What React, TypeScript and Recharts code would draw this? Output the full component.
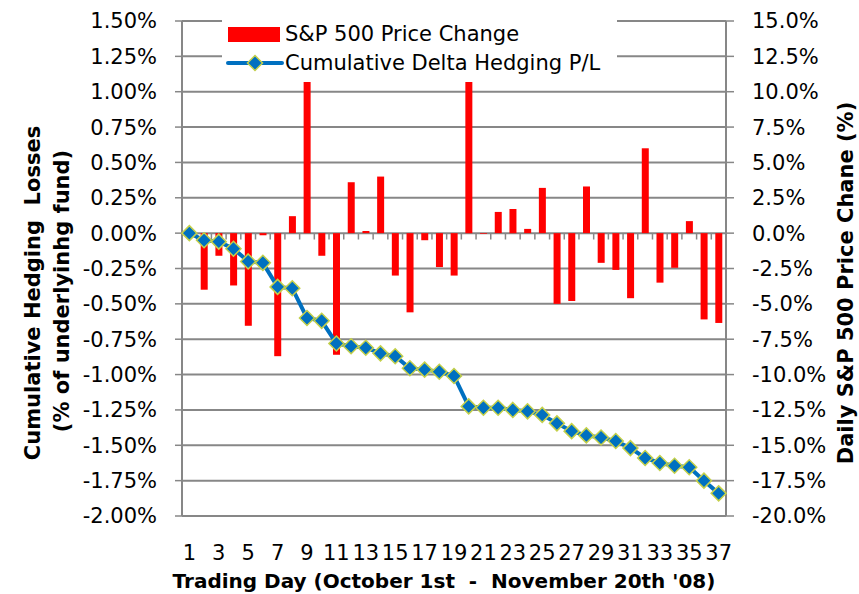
import { ComposedChart, Bar, Line, XAxis, YAxis, CartesianGrid, ReferenceLine } from 'recharts';

const days = [1, 2, 3, 4, 5, 6, 7, 8, 9, 10, 11, 12, 13, 14, 15, 16, 17, 18, 19, 20, 21, 22, 23, 24, 25, 26, 27, 28, 29, 30, 31, 32, 33, 34, 35, 36, 37];

// daily S&P 500 change, % (right axis)
const spxChange = [-0.3, -4.0, -1.6, -3.7, -6.55, -0.15, -8.7, 1.2, 11.6, -1.6, -8.6, 3.6, 0.15, 4.0, -3.0, -5.6, -0.5, -2.4, -3.0, 10.8, -0.05, 1.5, 1.7, 0.3, 3.2, -5.0, -4.8, 3.3, -2.1, -2.6, -4.6, 6.0, -3.5, -2.45, 0.85, -6.1, -6.35];

// cumulative delta hedging P/L, % of fund (left axis)
const hedgePL = [0, -0.05, -0.06, -0.11, -0.2, -0.21, -0.38, -0.39, -0.6, -0.62, -0.78, -0.8, -0.81, -0.85, -0.87, -0.955, -0.965, -0.98, -1.01, -1.225, -1.235, -1.235, -1.25, -1.26, -1.285, -1.345, -1.4, -1.43, -1.445, -1.47, -1.52, -1.59, -1.625, -1.645, -1.655, -1.75, -1.84];

const leftTicks = [1.5, 1.25, 1, 0.75, 0.5, 0.25, 0, -0.25, -0.5, -0.75, -1, -1.25, -1.5, -1.75, -2];
const rightTicks = [15, 12.5, 10, 7.5, 5, 2.5, 0, -2.5, -5, -7.5, -10, -12.5, -15, -17.5, -20];

const data = days.map((d, i) => ({ day: d, spx: spxChange[i], pl: hedgePL[i] }));

const FONT = '"DejaVu Sans", sans-serif';
const GRID = '#878787';
const BLUE = '#0070C0';
const MARKER_EDGE = '#C4D04A';

function Diamond(props: any) {
  const { cx, cy } = props;
  if (cx == null || cy == null) return <g key={props.key} />;
  const r = 7.5;
  return (
    <path
      key={props.key}
      d={`M${cx},${cy - r}L${cx + r},${cy}L${cx},${cy + r}L${cx - r},${cy}Z`}
      fill={BLUE}
      stroke={MARKER_EDGE}
      strokeWidth={1.5}
    />
  );
}

const titleStyle = { whiteSpace: 'pre' as const };

export default function App() {
  return (
    <div style={{ position: 'absolute', left: 0, top: 0, width: 859, height: 594, background: '#fff', fontFamily: FONT }}>
      <ComposedChart width={859} height={594} data={data} margin={{ top: 21, right: 0, left: 0, bottom: 0 }}>
        <CartesianGrid yAxisId="left" vertical={false} stroke={GRID} strokeWidth={2} />
        <XAxis
          dataKey="day"
          height={78}
          interval={1}
          tickLine={false}
          tickMargin={23}
          axisLine={{ stroke: GRID, strokeWidth: 2 }}
          tick={{ fontSize: 21, fill: '#000', fontFamily: FONT }}
          label={{
            content: () => (
              <text x={444} y={581} textAnchor="middle" dominantBaseline="central" fontFamily={FONT} fontWeight="bold" fontSize={20} fill="#000" style={titleStyle}>
                Trading Day (October 1st  -  November 20th '08)
              </text>
            ),
          }}
        />
        <YAxis
          yAxisId="left"
          orientation="left"
          width={182}
          domain={[-2, 1.5]}
          ticks={leftTicks}
          interval={0}
          tickFormatter={(v: number) => v.toFixed(2) + '%'}
          axisLine={{ stroke: GRID, strokeWidth: 2 }}
          tickLine={{ stroke: GRID, strokeWidth: 1.5 }}
          tickSize={7}
          tickMargin={18}
          tick={{ fontSize: 21, fill: '#000', fontFamily: FONT }}
          label={{
            content: () => (
              <g fontFamily={FONT} fontWeight="bold" fontSize={21} fill="#000">
                <text transform="translate(33,293) rotate(-90)" textAnchor="middle" dominantBaseline="central" style={titleStyle}>
                  Cumulative Hedging  Losses
                </text>
                <text transform="translate(62,291) rotate(-90)" textAnchor="middle" dominantBaseline="central" style={titleStyle}>
                  (% of underlyinhg fund)
                </text>
              </g>
            ),
          }}
        />
        <YAxis
          yAxisId="right"
          orientation="right"
          width={133}
          domain={[-20, 15]}
          ticks={rightTicks}
          interval={0}
          tickFormatter={(v: number) => v.toFixed(1) + '%'}
          axisLine={{ stroke: GRID, strokeWidth: 2 }}
          tickLine={{ stroke: GRID, strokeWidth: 1.5 }}
          tickSize={8}
          tickMargin={18}
          tick={{ fontSize: 21, fill: '#000', fontFamily: FONT }}
          label={{
            content: () => (
              <text transform="translate(846,283) rotate(-90)" textAnchor="middle" dominantBaseline="central" fontFamily={FONT} fontWeight="bold" fontSize={21} fill="#000" style={titleStyle}>
                Daily S&amp;P 500 Price Chane (%)
              </text>
            ),
          }}
        />
        {days.slice(1).map((d) => (
          <ReferenceLine
            key={d}
            yAxisId="left"
            segment={[{ x: d, y: 0 }, { x: d, y: -0.045 }]}
            position="start"
            stroke={GRID}
            strokeWidth={1.5}
            ifOverflow="visible"
          />
        ))}
        <Bar yAxisId="right" dataKey="spx" fill="#FF0000" barSize={7} isAnimationActive={false} />
        <Line
          yAxisId="left"
          dataKey="pl"
          stroke={BLUE}
          strokeWidth={4}
          dot={Diamond}
          activeDot={false}
          isAnimationActive={false}
        />
      </ComposedChart>

      <div style={{ position: 'absolute', left: 222, top: 20, width: 395, height: 62, background: '#fff', fontSize: 21, color: '#000' }}>
        <div style={{ position: 'absolute', left: 6, top: 7, width: 52, height: 15, background: '#FF0000' }} />
        <div style={{ position: 'absolute', left: 63, top: 14, transform: 'translateY(-50%)', whiteSpace: 'nowrap', lineHeight: 1 }}>
          S&amp;P 500 Price Change
        </div>
        <svg style={{ position: 'absolute', left: 4, top: 33 }} width={58} height={20}>
          <line x1={2} y1={10} x2={56} y2={10} stroke={BLUE} strokeWidth={4} strokeLinecap="round" />
          <path d="M29,2.5L36.5,10L29,17.5L21.5,10Z" fill={BLUE} stroke={MARKER_EDGE} strokeWidth={1.5} />
        </svg>
        <div style={{ position: 'absolute', left: 63, top: 43, transform: 'translateY(-50%)', whiteSpace: 'nowrap', lineHeight: 1 }}>
          Cumulative Delta Hedging P/L
        </div>
      </div>
    </div>
  );
}
